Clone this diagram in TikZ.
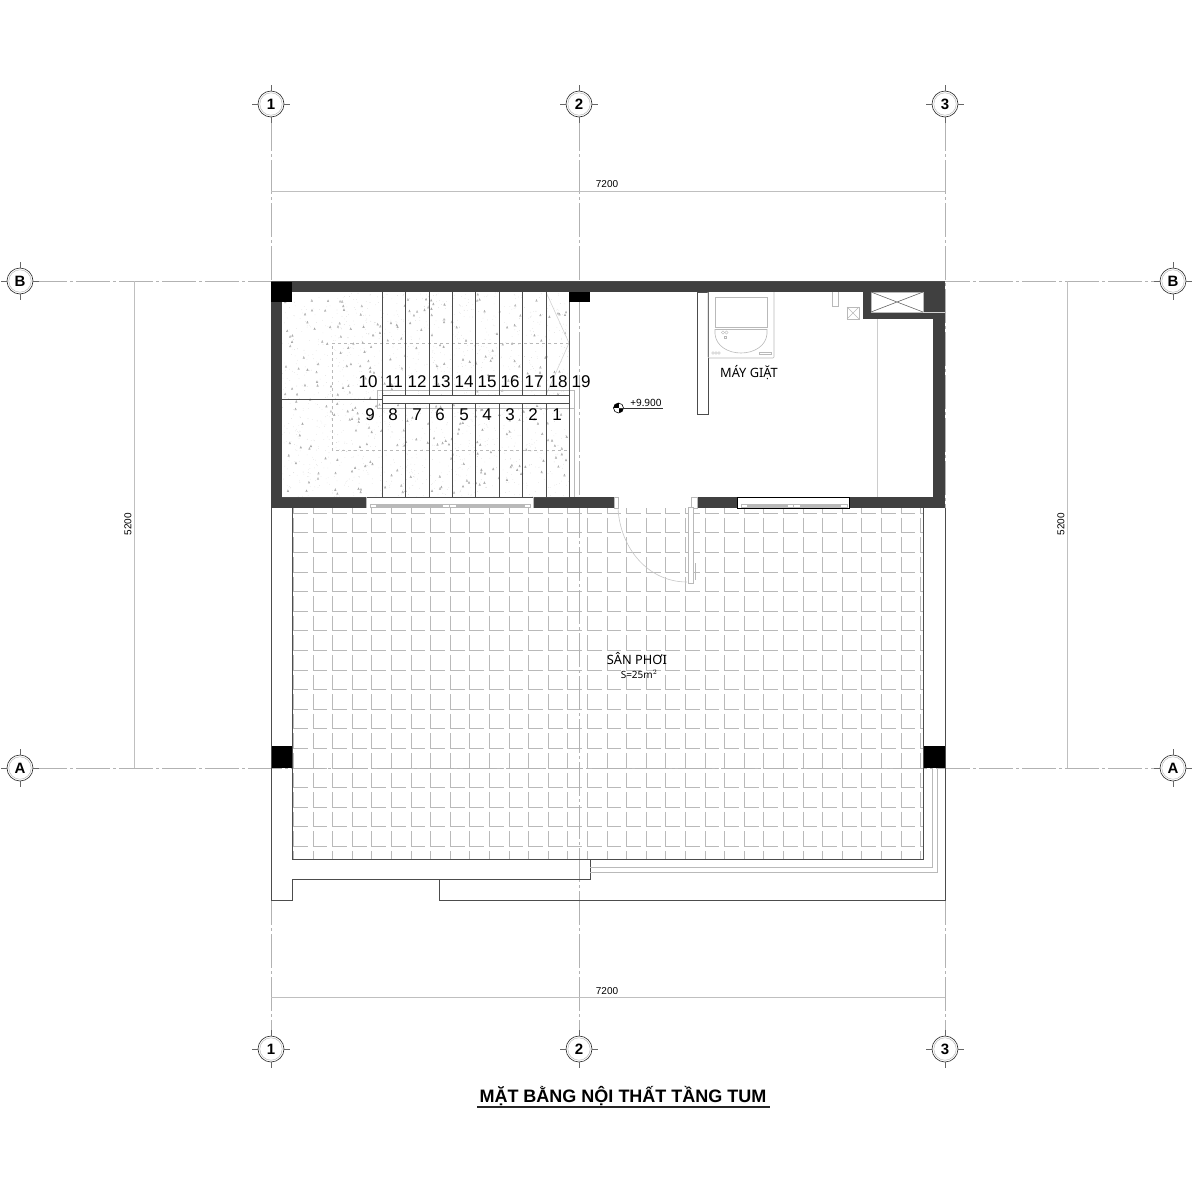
\documentclass[tikz,border=0pt]{standalone}
\usepackage{fontspec}
\setmainfont{Liberation Sans}
\newfontfamily\labelfont{Noto Sans}
\usetikzlibrary{shapes.geometric}

\begin{document}
\begin{tikzpicture}[x=1pt,y=-1pt]
    \tikzstyle{axisline} = [gray!60, line width=0.8pt, dash pattern=on 34pt off 3pt on 3pt off 3pt]
    \tikzstyle{bubble} = [circle, draw=black!85, fill=white, line width=0.6pt, minimum size=26pt, inner sep=0pt, font=\fontsize{15}{15}\selectfont\bfseries]
    \tikzstyle{tick} = [black!60, line width=0.6pt]
    \tikzstyle{dimline} = [gray!50, line width=0.7pt]
    \tikzstyle{dimtext} = [inner sep=0pt, font=\fontsize{10}{10}\selectfont]
    \tikzstyle{wall} = [fill=black!75]
    \tikzstyle{post} = [fill=black]
    \tikzstyle{edge} = [black!70, line width=0.8pt]
    \tikzstyle{thin} = [gray!55, line width=0.6pt]
    \tikzstyle{tile} = [gray!55, line width=0.7pt]
    \tikzstyle{stepno} = [inner sep=0pt, font=\fontsize{17}{17}\selectfont]
    \tikzstyle{room} = [inner sep=0pt, font=\labelfont\fontsize{12.8}{12.8}\selectfont]
    \useasboundingbox (0,0) rectangle (1200,1200);

    % tiles
    \begin{scope}
        \clip (292,508) rectangle (923,859);
        \foreach \i in {0,...,32}
            \foreach \j in {0,...,18}
                \draw[tile] (293.3+\i*19.6,498.1+\j*19.6) -- ++(0,15) -- ++(14.5,0);
    \end{scope}

    % grid bubbles and axes
    \node [bubble] (t1) at (271,104) {1};
    \node [bubble] (t2) at (579,104) {2};
    \node [bubble] (t3) at (945,104) {3};
    \node [bubble] (b1) at (271,1049) {1};
    \node [bubble] (b2) at (579,1049) {2};
    \node [bubble] (b3) at (945,1049) {3};
    \node [bubble] (lb) at (20,281) {B};
    \node [bubble] (rb) at (1173,281) {B};
    \node [bubble] (la) at (20,768) {A};
    \node [bubble] (ra) at (1173,768) {A};
    \draw[axisline] (t1) -- (b1);
    \draw[axisline] (t2) -- (b2);
    \draw[axisline] (t3) -- (b3);
    \draw[axisline] (lb) -- (rb);
    \draw[axisline] (la) -- (ra);
    \foreach \n in {t1,t2,t3,b1,b2,b3,lb,rb,la,ra} {
        \draw[tick] (\n.north) -- ++(0,-6);
        \draw[tick] (\n.south) -- ++(0,6);
        \draw[tick] (\n.west) -- ++(-6,0);
        \draw[tick] (\n.east) -- ++(6,0);
        \draw[gray!60, line width=0.4pt] (\n) circle (11.2);
    }

    % dimensions
    \coordinate (d1) at (271,191);
    \coordinate (d2) at (945,191);
    \coordinate (d3) at (271,997);
    \coordinate (d4) at (945,997);
    \coordinate (d5) at (134,281);
    \coordinate (d6) at (134,768);
    \coordinate (d7) at (1067,281);
    \coordinate (d8) at (1067,768);
    \draw[dimline] (d1) -- (d2);
    \draw[dimline] (d3) -- (d4);
    \draw[dimline] (d5) -- (d6);
    \draw[dimline] (d7) -- (d8);
    \node [dimtext] (w1) at (607,184) {7200};
    \node [dimtext] (w2) at (607,991) {7200};
    \node [dimtext, rotate=90] (h1) at (128,524) {5200};
    \node [dimtext, rotate=90] (h2) at (1061,524) {5200};

    % stair finish
    \pgfmathsetseed{23}
    \foreach \i in {1,...,1500} {
        \pgfmathsetmacro{\px}{282+rnd*287}
        \pgfmathsetmacro{\py}{292+rnd*205}
        \fill[gray!40] (\px,\py) circle (0.3);
    }
    \foreach \i in {1,...,300} {
        \pgfmathsetmacro{\px}{283+rnd*283}
        \pgfmathsetmacro{\py}{295+rnd*200}
        \draw[gray!70, line width=0.4pt] (\px,\py) -- ++(1.6,0) -- ++(-0.8,-1.8) -- cycle;
    }
    \draw[thin, dashed] (569,343) -- (332,343) -- (332,450) -- (569,450);
    \draw[thin, gray!35] (546,292) -- (569,343) -- (546,395);
    \draw[thin] (574,497) -- (574,390) -- (377,390) -- (377,408) -- (574,408);
    \foreach \x in {382.3,405.3,429,452.3,475.7,499.3,522.3,546}
        \draw[edge] (\x,292) -- (\x,497);
    \draw[edge] (569.3,292) -- (569.3,497);
    \draw[edge] (282,399) -- (382,399);
    \draw[edge, fill=white] (382.3,395.3) rectangle (569.3,403.3);

    % walls
    \fill[wall] (271,281) rectangle (945,292);
    \fill[wall] (271,281) rectangle (282,508);
    \fill[wall] (933,281) rectangle (945,508);
    \fill[wall] (863,292) rectangle (945,319);
    \fill[wall] (271,497) rectangle (366,508);
    \fill[wall] (533,497) rectangle (614,508);
    \fill[wall] (697,497) rectangle (737.5,508);
    \fill[wall] (849,497) rectangle (945,508);
    \fill[post] (271,281) rectangle (292,302);
    \fill[post] (569,292) rectangle (590,302);
    \fill[post] (271,746) rectangle (292,768);
    \fill[post] (923,746) rectangle (945,768);
    \draw[edge] (282,497) -- (569,497);
    \draw[edge] (271,281) -- (945,281);

    % duct
    \draw[thin, fill=white] (871,292) rectangle (923,312);
    \draw[thin, black!60] (871,292) -- (923,312) (871,312) -- (923,292);
    \draw[thin, gray!35] (923,312) -- (945,312);

    % windows
    \foreach \xa/\xb in {370/530,741/845}
        \fill[gray!55] (\xa,504) rectangle (\xb,507.5);
    \foreach \xa/\xb in {370/376,442/449,449/456,524/530,741/747,787/793,793/800,840/847}
        \draw[thin, fill=white] (\xa,504) rectangle (\xb,507.5);
    \draw[thin] (366,497) -- (366,508) (533,497) -- (533,508);
    \draw[edge, black] (737.5,497) rectangle (849,508);

    % door
    \draw[thin, fill=white] (614,497) rectangle (618,508);
    \draw[thin, fill=white] (691,497) rectangle (697,508);
    \draw[thin, fill=white] (688,507) rectangle (693,583);
    \draw[thin, gray!45] (618,508) .. controls (620,548) and (648,582) .. (687,582);
    \draw[thin] (695,563) -- (695,580);

    % partition and washing machine
    \draw[edge, fill=white] (697,292) rectangle (708,414);
    \draw[thin, rounded corners=1pt] (708,292) -- (708,358) -- (774,358) -- (774,292);
    \draw[thin] (715,297) rectangle (767,327);
    \draw[thin] (715,329) -- (767,329);
    \draw[thin] (715,329) -- (715,334) .. controls (716,346) and (728,353) .. (741,353) .. controls (754,353) and (766,346) .. (767,334) -- (767,329);
    \foreach \x in {723,726.5} \draw[thin, line width=0.4pt] (\x,332.5) circle (1.6);
    \draw[thin, line width=0.4pt] (724,336) rectangle (726.5,338.5);
    \foreach \x in {713,716,719} \draw[thin, line width=0.4pt] (\x,353) circle (1.4);
    \draw[thin, line width=0.4pt] (759,352) rectangle (771,354);

    % tap and drain
    \draw[thin] (832,292) -- (832,306) -- (838,306) -- (838,292);
    \draw[thin] (847,307) rectangle (859,319);
    \draw[thin] (847,307) -- (859,319) (847,319) -- (859,307);
    \draw[thin, gray!40] (877,319) -- (877,497);

    % level mark
    \coordinate (m1) at (618.5,408);
    \coordinate (m2) at (663,408);
    \begin{scope}
        \clip (m1) circle (5);
        \fill[black] (613,403) rectangle (618.5,408);
        \fill[black] (618.5,408) rectangle (624,413);
    \end{scope}
    \draw[black, line width=0.6pt] (m1) circle (5);
    \draw[black!80, line width=0.6pt] (m1) -- (m2);
    \node [inner sep=0pt, font=\labelfont\fontsize{10}{10}\selectfont] (lvl) at (646,403) {+9.900};

    % terrace outline
    \draw[edge] (292,508) -- (292,859) -- (923,859) -- (923,508);
    \draw[edge] (271,508) -- (271,900) -- (292,900) -- (292,879) -- (590,879) -- (590,859);
    \draw[edge] (439,879) -- (439,900) -- (945,900) -- (945,508);
    \draw[thin] (590,867) -- (932,867) -- (932,768);
    \draw[thin] (590,872) -- (937,872) -- (937,768);

    % step numbers
    \foreach \t/\x in {10/368,11/394,12/417,13/441,14/464,15/487,16/510,17/534,18/558,19/581}
        \node [stepno] (s\t) at (\x,382) {\t};
    \foreach \t/\x in {9/370,8/393,7/417,6/440,5/464,4/487,3/510,2/533,1/557}
        \node [stepno] (s\t) at (\x,415) {\t};

    % labels
    \node [room] (wash) at (749,373) {MÁY GIẶT};
    \node [room] (yard) at (637,659) {SÂN PHƠI};
    \node [inner sep=0pt, font=\labelfont\fontsize{10}{10}\selectfont] (area) at (639,674) {S=25m$^2$};
    \node [inner sep=0pt, font=\bfseries\fontsize{18}{18}\selectfont] (title) at (623,1096) {MẶT BẰNG NỘI THẤT TẦNG TUM};
    \draw[black!85, line width=1.8pt] (477,1107) -- (770,1107);
\end{tikzpicture}
\end{document}
